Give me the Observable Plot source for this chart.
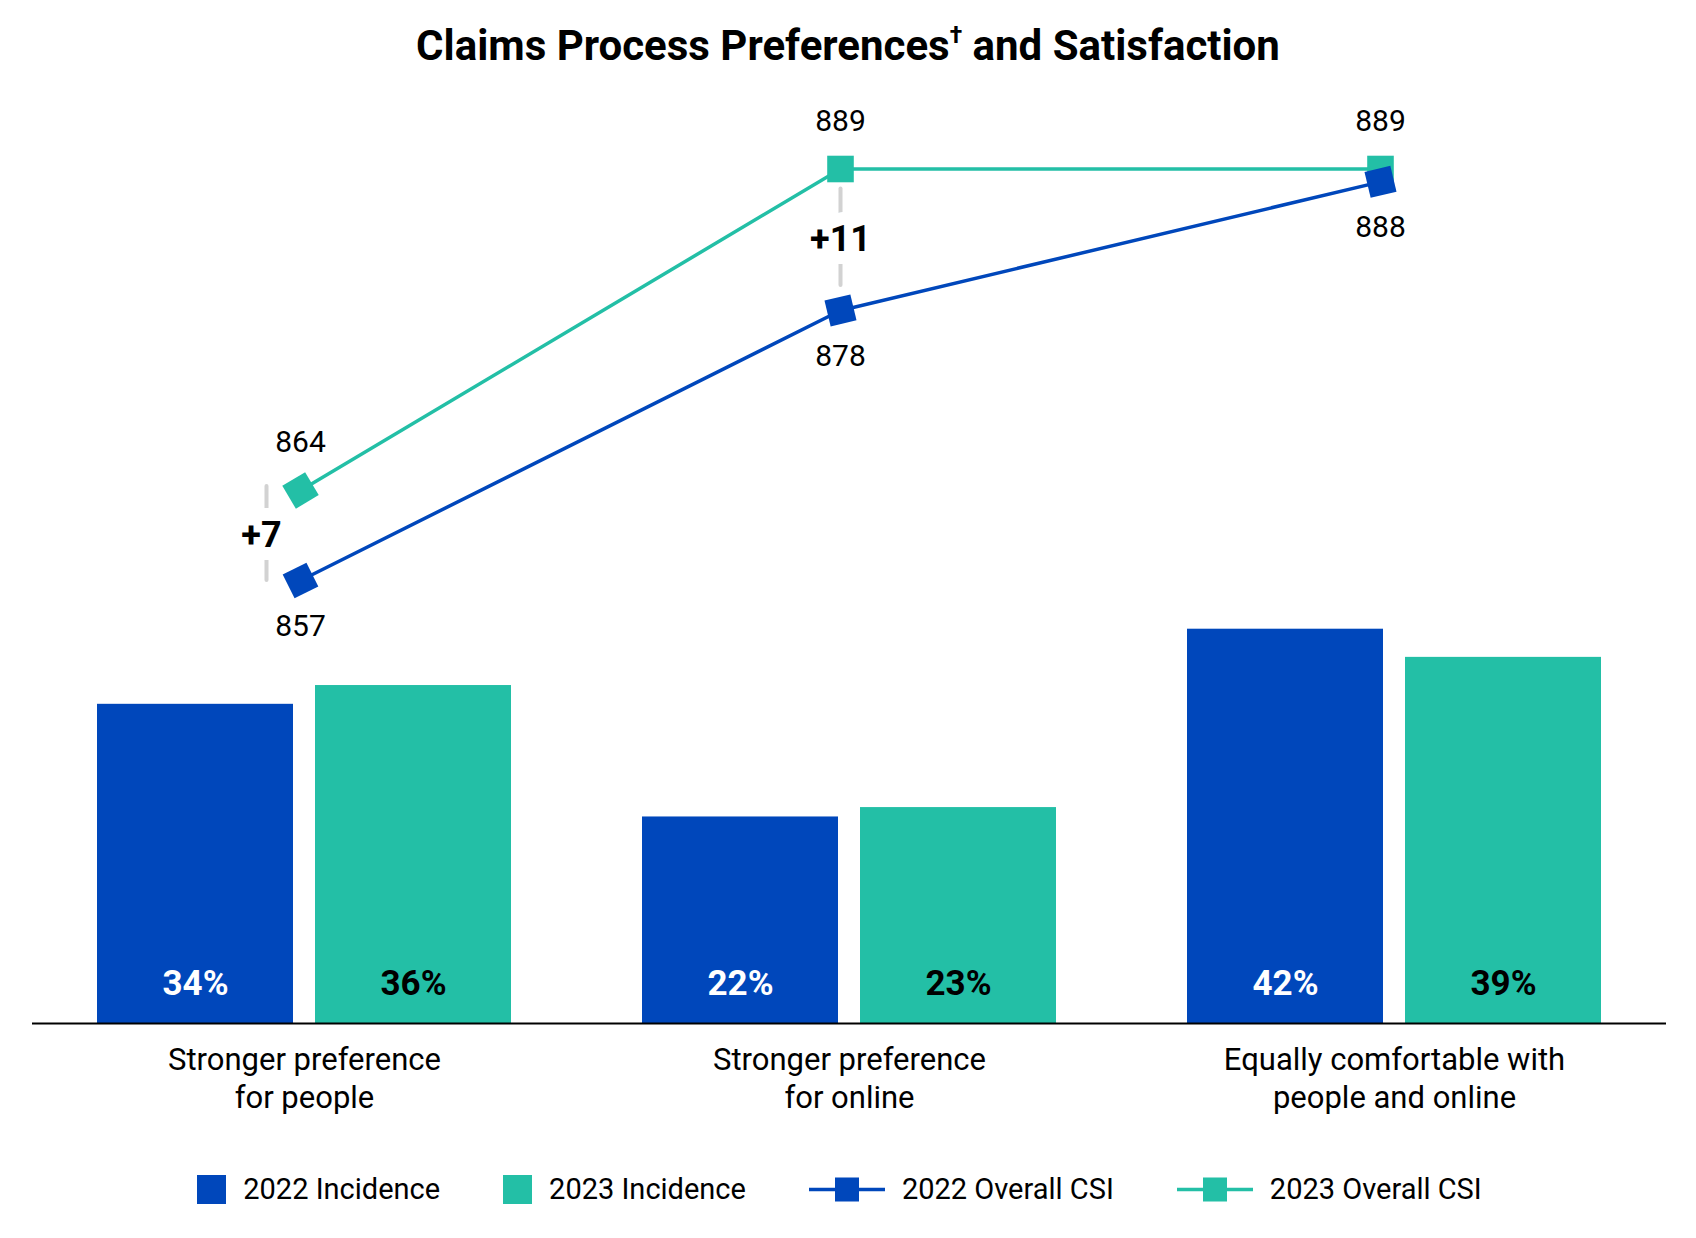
<!DOCTYPE html>
<html>
<head>
<meta charset="utf-8">
<script src="https://cdn.jsdelivr.net/npm/d3@7"></script>
<script src="https://cdn.jsdelivr.net/npm/@observablehq/plot@0.6"></script>
<style>
  html, body { margin: 0; padding: 0; background: #fff; }
  body { font-family: Roboto, "Noto Sans", sans-serif; color: #000; }
  #wrap { width: 1696px; height: 1238px; position: relative; overflow: hidden; }
  #title { height: 90px; line-height: 92px; text-align: center; font-weight: 700; font-size: 42px; }
  #chart { position: relative; width: 1696px; height: 1043px; }
  #chart svg { position: absolute; left: 0; top: 0; }
  #legend { position: relative; height: 112px; display: flex; align-items: center; justify-content: center; gap: 63px; padding-right: 17px; font-size: 29px; }
  .item { display: flex; align-items: center; gap: 17px; }
  .item svg { display: block; }
</style>
</head>
<body>
<div id="wrap">
  <div id="title">Claims Process Preferences<sup style="font-size:0.55em;vertical-align:0;position:relative;top:-0.75em;">†</sup> and Satisfaction</div>
  <div id="chart"></div>
  <div id="legend"></div>
</div>
<script>
// ---- data ----
const categories = [
  "Stronger preference for people",
  "Stronger preference for online",
  "Equally comfortable with people and online"
];
const tickLabels = [
  "Stronger preference\nfor people",
  "Stronger preference\nfor online",
  "Equally comfortable with\npeople and online"
];
const incidence2022 = [34, 22, 42];
const incidence2023 = [36, 23, 39];
const csi2022 = [857, 878, 888];
const csi2023 = [864, 889, 889];
const diffShown = [0, 1]; // category indexes with a difference callout
const seriesNames = ["2022 Incidence", "2023 Incidence", "2022 Overall CSI", "2023 Overall CSI"];

const BLUE = "#0047BB";
const TEAL = "#23BFA6";
const GRAY = "#d2d2d2";

// ---- bars ----
const bars2022 = categories.map((c, i) => ({cat: c, v: incidence2022[i]}));
const bars2023 = categories.map((c, i) => ({cat: c, v: incidence2023[i]}));

const barPlot = Plot.plot({
  width: 1696,
  height: 1043,
  marginLeft: 32,
  marginRight: 30,
  marginTop: 0,
  marginBottom: 110,
  style: {fontFamily: "Roboto, sans-serif", background: "transparent", overflow: "visible", color: "#000"},
  x: {domain: categories, range: [96, 1601], paddingInner: 0.241, paddingOuter: 0},
  y: {domain: [0, 100], range: [933, -5.8], axis: null},
  marks: [
    Plot.barY(bars2022, {x: "cat", y: "v", fill: BLUE, insetRight: 218}),
    Plot.barY(bars2023, {x: "cat", y: "v", fill: TEAL, insetLeft: 218}),
    Plot.text(bars2022, {x: "cat", y: 0, text: d => d.v + "%", dx: -109, dy: -40, fill: "#fff", fontWeight: 700, fontSize: 35}),
    Plot.text(bars2023, {x: "cat", y: 0, text: d => d.v + "%", dx: 109, dy: -40, fill: "#000", fontWeight: 700, fontSize: 35}),
    Plot.ruleY([0], {stroke: "#000", strokeWidth: 2}),
    Plot.axisX({tickSize: 0, tickPadding: 20, fontSize: 31, lineHeight: 1.22, tickFormat: (d) => tickLabels[categories.indexOf(d)], fill: "#000", label: null})
  ]
});

// ---- lines (own scales, overlaid) ----
const xL = {type: "point", domain: categories, range: [299, 1380], padding: 0};
const yL = {domain: [857, 889], range: [490, 78.5]};
const sx = Plot.scale({x: xL});
const sy = Plot.scale({y: yL});
function markerAngles(vals) {
  return vals.map((v, i) => {
    const a = i < vals.length - 1 ? i : i - 1, b = a + 1;
    const dx = sx.apply(categories[b]) - sx.apply(categories[a]);
    const dy = sy.apply(vals[b]) - sy.apply(vals[a]);
    return Math.atan2(dy, dx) * 180 / Math.PI;
  });
}
const ang2022 = markerAngles(csi2022);
const ang2023 = markerAngles(csi2023);
const line2022 = categories.map((c, i) => ({cat: c, csi: csi2022[i], angle: ang2022[i]}));
const line2023 = categories.map((c, i) => ({cat: c, csi: csi2023[i], angle: ang2023[i]}));
const diffs = diffShown.map(i => ({cat: categories[i], lo: csi2022[i], hi: csi2023[i], mid: (csi2022[i] + csi2023[i]) / 2, label: "+" + (csi2023[i] - csi2022[i])}));

const linePlot = Plot.plot({
  width: 1696,
  height: 640,
  margin: 0,
  style: {fontFamily: "Roboto, sans-serif", background: "transparent", overflow: "visible", color: "#000"},
  x: {...xL, axis: null},
  y: {...yL, axis: null},
  marks: [
    Plot.ruleX(diffs.slice(0, 1), {x: "cat", y1: "hi", y2: "lo", dx: -34, insetTop: -4, insetBottom: 0, stroke: GRAY, strokeWidth: 4, strokeLinecap: "round"}),
    Plot.ruleX(diffs.slice(1), {x: "cat", y1: "hi", y2: "lo", insetTop: 20, insetBottom: 25, stroke: GRAY, strokeWidth: 4, strokeLinecap: "round"}),
    Plot.text(diffs.slice(0, 1), {x: "cat", y: "mid", text: "label", dx: -39, fontWeight: 700, fontSize: 36, fill: "#000", stroke: "#fff", strokeWidth: 26, paintOrder: "stroke"}),
    Plot.text(diffs.slice(1), {x: "cat", y: "mid", text: "label", fontWeight: 700, fontSize: 36, fill: "#000", stroke: "#fff", strokeWidth: 26, paintOrder: "stroke"}),
    Plot.line(line2023, {x: "cat", y: "csi", stroke: TEAL, strokeWidth: 3.5}),
    Plot.line(line2022, {x: "cat", y: "csi", stroke: BLUE, strokeWidth: 3.5}),
    Plot.dot(line2023, {x: "cat", y: "csi", symbol: "square", r: 15, fill: TEAL, rotate: "angle"}),
    Plot.dot(line2022, {x: "cat", y: "csi", symbol: "square", r: 15, fill: BLUE, rotate: "angle"}),
    Plot.text(line2023, {x: "cat", y: "csi", text: d => String(d.csi), dy: -48, fontSize: 30, fill: "#000"}),
    Plot.text(line2022, {x: "cat", y: "csi", text: d => String(d.csi), dy: 46, fontSize: 30, fill: "#000"})
  ]
});

const chart = document.getElementById("chart");
chart.appendChild(barPlot);
chart.appendChild(linePlot);

// ---- legend ----
const legend = document.getElementById("legend");
const swatchKinds = [["rect", BLUE], ["rect", TEAL], ["line", BLUE], ["line", TEAL]];
seriesNames.forEach((name, i) => {
  const [kind, color] = swatchKinds[i];
  const item = document.createElement("div");
  item.className = "item";
  const svg = kind === "rect"
    ? `<svg width="29" height="29"><rect width="29" height="29" fill="${color}"/></svg>`
    : `<svg width="76" height="29"><line x1="0" x2="76" y1="14.5" y2="14.5" stroke="${color}" stroke-width="3.5"/><rect x="26" y="2.5" width="24" height="24" fill="${color}"/></svg>`;
  item.innerHTML = svg + `<span>${name}</span>`;
  legend.appendChild(item);
});
</script>
</body>
</html>
